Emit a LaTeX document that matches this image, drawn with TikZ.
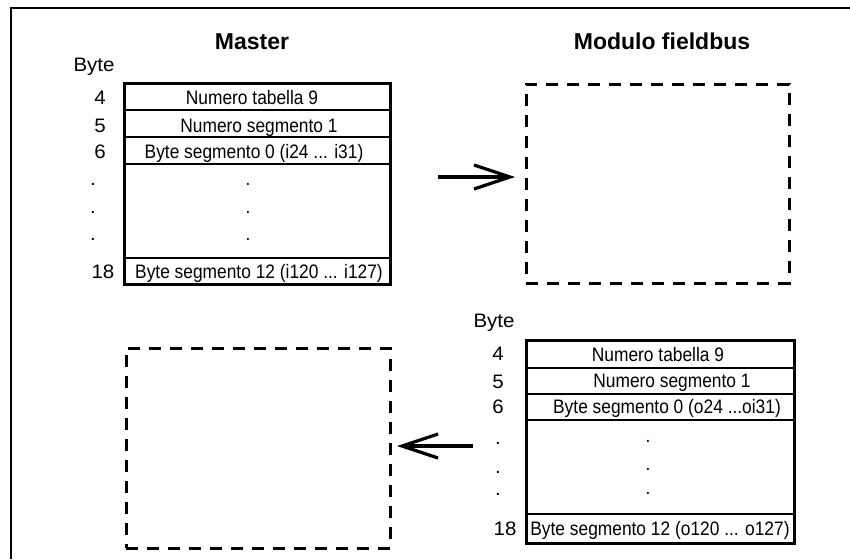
\documentclass[tikz,border=0pt]{standalone}
\usepackage{fontspec}
\setmainfont{Liberation Sans}
\newfontfamily\cellfont[FakeStretch=0.89]{Liberation Sans}
\newfontfamily\labelfont[FakeStretch=1.05]{Liberation Sans}
\usetikzlibrary{arrows.meta}

\begin{document}
\begin{tikzpicture}[x=1pt,y=-1pt,
  cell/.style={draw, line width=1.6pt, inner sep=0pt, anchor=north west},
  celltext/.style={anchor=base, inner sep=0pt, font=\cellfont\fontsize{19.5}{22}\selectfont},
  lbl/.style={anchor=base, inner sep=0pt, font=\labelfont\fontsize{19.5}{22}\selectfont},
  heading/.style={anchor=base, inner sep=0pt, font=\bfseries\fontsize{23}{26}\selectfont},
  ghost/.style={draw, line width=2.6pt, dash pattern=on 12pt off 9pt, inner sep=0pt, anchor=north west},
  flow/.style={line width=3.2pt, -{Straight Barb[length=36pt,width=24pt]}},
  frameline/.style={line width=1.5pt},
]
\useasboundingbox (0,0) rectangle (850,559);

% outer frame (left and top edges)
\draw[frameline] (11,559) -- (11,8) -- (850,8);

% headings
\node[heading] (tMaster) at (252,50) {Master};
\node[heading] (tModule) at (662,50) {Modulo fieldbus};

% ---------------- Master telegram ----------------
\node[lbl] (mByte) at (94,72) {Byte};
\node[cell, minimum width=265pt, minimum height=26pt] (m1) at (124,83) {};
\node[cell, minimum width=265pt, minimum height=27pt] (m2) at (124,109) {};
\node[cell, minimum width=265pt, minimum height=27pt] (m3) at (124,136) {};
\node[cell, minimum width=265pt, minimum height=94pt] (m4) at (124,163) {};
\node[cell, minimum width=265pt, minimum height=26pt] (m5) at (124,257) {};
\draw[line width=2.8pt] (m1.north west) rectangle (m5.south east);

\node[celltext] (m1t) at (252,105) {Numero tabella 9};
\node[celltext] (m2t) at (259,132) {Numero segmento 1};
\node[celltext] (m3t) at (254,158) {Byte segmento 0 (i24 ... i31)};
\node[celltext] (m4a) at (248,185) {.};
\node[celltext] (m4b) at (248,213) {.};
\node[celltext] (m4c) at (248,240) {.};
\node[celltext] (m5t) at (259,278) {Byte segmento 12 (i120 ... i127)};

\node[lbl] (mn4) at (100,105) {4};
\node[lbl] (mn5) at (100,132) {5};
\node[lbl] (mn6) at (100,158) {6};
\node[lbl] (mna) at (93,185) {.};
\node[lbl] (mnb) at (93,213) {.};
\node[lbl] (mnc) at (93,240) {.};
\node[lbl] (mn18) at (103,278) {18};

% empty frame on the fieldbus side
\node[ghost, minimum width=263pt, minimum height=199pt] (fbox) at (525,83) {};

% ---------------- Fieldbus telegram ----------------
\node[lbl] (fByte) at (494,327) {Byte};
\node[cell, minimum width=267pt, minimum height=27pt] (f1) at (526,340) {};
\node[cell, minimum width=267pt, minimum height=26pt] (f2) at (526,367) {};
\node[cell, minimum width=267pt, minimum height=26pt] (f3) at (526,393) {};
\node[cell, minimum width=267pt, minimum height=94pt] (f4) at (526,419) {};
\node[cell, minimum width=267pt, minimum height=29pt] (f5) at (526,513) {};
\draw[line width=2.8pt] (f1.north west) rectangle (f5.south east);

\node[celltext] (f1t) at (658,361) {Numero tabella 9};
\node[celltext] (f2t) at (672,387) {Numero segmento 1};
\node[celltext] (f3t) at (667,413) {Byte segmento 0 (o24 ...oi31)};
\node[celltext] (f4a) at (648,442) {.};
\node[celltext] (f4b) at (648,470) {.};
\node[celltext] (f4c) at (648,494) {.};
\node[celltext] (f5t) at (660,535) {Byte segmento 12 (o120 ... o127)};

\node[lbl] (fn4) at (498,360) {4};
\node[lbl] (fn5) at (498,388) {5};
\node[lbl] (fn6) at (498,413) {6};
\node[lbl] (fna) at (498,444) {.};
\node[lbl] (fnb) at (498,473) {.};
\node[lbl] (fnc) at (498,495) {.};
\node[lbl] (fn18) at (505,535) {18};

% empty frame on the master side
\node[ghost, minimum width=264pt, minimum height=200pt] (mbox) at (125,347) {};

% transfer arrows
\coordinate (aOutFrom) at (438,177);
\coordinate (aOutTo) at (515,177);
\coordinate (aInFrom) at (473,446);
\coordinate (aInTo) at (397,446);
\draw[flow] (aOutFrom) -- (aOutTo);
\draw[flow] (aInFrom) -- (aInTo);
\end{tikzpicture}
\end{document}
